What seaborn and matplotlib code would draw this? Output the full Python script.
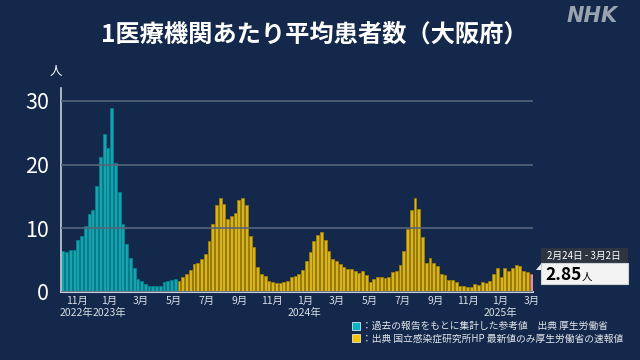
import numpy as np
import pandas as pd
import matplotlib.pyplot as plt
import seaborn as sns
from matplotlib.patches import Patch, Rectangle, Polygon

# weekly values, Oct 3 2022 -> Feb 24 2025 (week start)
first_week = '2022-10-03'
ref_vals = [6.5, 6.2, 6.6, 6.6, 8.1, 8.8, 10.4, 12.2, 12.8, 16.7, 21.1, 24.8, 22.6, 28.9,
            20.3, 15.7, 10.7, 7.6, 5.3, 3.7, 2.1, 1.8, 1.3, 0.9, 0.9, 0.9, 0.9, 1.5, 1.7, 1.9, 2.0]
niid_vals = [1.8, 2.4, 2.8, 3.4, 4.4, 4.6, 5.2, 5.9, 8.0, 10.6, 13.7, 14.7, 13.8, 11.4, 11.9,
             12.4, 14.4, 14.7, 13.6, 8.8, 7.1, 4.0, 2.8, 2.5, 1.8, 1.5, 1.4, 1.4, 1.6, 1.8, 2.3,
             2.5, 2.9, 3.4, 4.8, 6.3, 8.0, 8.9, 9.4, 8.1, 6.4, 5.1, 4.8, 4.4, 3.9, 3.6, 3.6, 3.3,
             3.0, 3.3, 2.7, 1.6, 2.1, 2.3, 2.3, 2.2, 2.4, 3.1, 3.3, 4.3, 6.4, 9.9, 12.8, 14.7,
             13.0, 8.7, 4.6, 5.3, 4.5, 4.1, 2.9, 2.6, 1.9, 1.9, 1.5, 1.0, 1.0, 0.8, 0.8, 1.2,
             1.1, 1.5, 1.4, 1.8, 2.8, 3.7, 2.4, 3.8, 3.3, 3.8, 4.3, 4.1, 3.3, 3.1]
latest_val = 2.85
latest_label = '2月24日 - 3月2日'

kinds = ['ref'] * len(ref_vals) + ['niid'] * len(niid_vals) + ['latest']
values = ref_vals + niid_vals + [latest_val]
weeks = pd.date_range(first_week, periods=len(values), freq='7D')

month_ticks = ['2022-11-01', '2023-01-01', '2023-03-01', '2023-05-01', '2023-07-01', '2023-09-01',
               '2023-11-01', '2024-01-01', '2024-03-01', '2024-05-01', '2024-07-01', '2024-09-01',
               '2024-11-01', '2025-01-01', '2025-03-01']
legend_texts = ['：過去の報告をもとに集計した参考値　出典 厚生労働省',
                '：出典 国立感染症研究所HP 最新値のみ厚生労働省の速報値']

BG = '#13284a'
colors = {'ref': '#00b6c6', 'niid': '#f6c500', 'latest': '#e88a8c'}
edges = {'ref': '#00838f', 'niid': '#a07e00', 'latest': '#b86062'}

df = pd.DataFrame({'week': weeks.strftime('%Y-%m-%d'), 'val': values, 'kind': kinds})

sns.set_theme(style='dark')
plt.rcParams['font.family'] = ['Noto Sans CJK JP', 'DejaVu Sans']

fig = plt.figure(figsize=(6.4, 3.6), dpi=100, facecolor=BG)
ax = fig.add_axes([61/640, 68/360, 472/640, 204/360], facecolor=BG)

sns.barplot(data=df, x='week', y='val', hue='kind', palette=colors, dodge=False,
            width=0.78, legend=False, ax=ax, linewidth=0.6)
for cont, k in zip(ax.containers, ['ref', 'niid', 'latest']):
    for b in cont:
        b.set_edgecolor(edges[k])

ax.set_xlim(-0.5, len(values) - 0.5)
ax.set_ylim(0, 32)
ax.set_xlabel('')
ax.set_ylabel('')

# month ticks -> categorical positions
t0 = pd.Timestamp(first_week)
pos, labs = [], []
for d in pd.to_datetime(month_ticks):
    pos.append(((d - t0).days - 3) / 7)
    lab = f'{d.month}月'
    if d.month == 1 or d == pd.Timestamp('2022-11-01'):
        lab += f'\n{d.year}年'
    labs.append(lab)
ax.set_xticks(pos, labs)
ax.tick_params(axis='x', length=0, pad=3, labelsize=7.5, colors='#d9dee6')

ax.set_yticks([0, 10, 20, 30])
ax.tick_params(axis='y', length=8, width=1.2, color='#56657b', pad=0.5, labelsize=15.5,
               labelcolor='white')
ax.yaxis.grid(True, color='#56657b', linewidth=1.2)
ax.xaxis.grid(False)
ax.set_axisbelow(False)
for s in ['top', 'right']:
    ax.spines[s].set_visible(False)
ax.spines['left'].set_color('#c9cfd8')
ax.spines['bottom'].set_color('#c9cfd8')
ax.spines['left'].set_linewidth(1.2)
ax.spines['bottom'].set_linewidth(1.5)
for t in ax.get_xticklabels():
    t.set_linespacing(1.25)

fig.text(56/640, 1 - 72/360, '人', color='white', fontsize=9, ha='center', va='center')
fig.text(314/640, 1 - 35/360, '1医療機関あたり平均患者数（大阪府）', color='white',
         fontsize=17.5, fontweight='bold', ha='center', va='center')
fig.text(592/640, 1 - 16/360, 'NHK', color='#9aa3b0', fontsize=15, fontweight='bold',
         fontstyle='italic', family='DejaVu Sans', ha='center', va='center')

fig.legend(handles=[Patch(facecolor=colors['ref'], edgecolor='white', linewidth=0.5),
                    Patch(facecolor=colors['niid'], edgecolor='white', linewidth=0.5)],
           labels=legend_texts, loc='upper left', bbox_to_anchor=(352/640, 1 - 321/360),
           frameon=False, fontsize=7, handlelength=0.8, handleheight=0.9, handletextpad=0.2,
           labelspacing=0.25, labelcolor='#e3e6ec', borderpad=0, borderaxespad=0)

# latest value callout
fig.patches.append(Rectangle((541/640, 1 - 263/360), 87/640, 15/360, transform=fig.transFigure,
                             facecolor='#2d3540', edgecolor='none'))
fig.patches.append(Rectangle((541/640, 1 - 284/360), 87/640, 21/360, transform=fig.transFigure,
                             facecolor='#f3f3f3', edgecolor='#cfd3d8', linewidth=0.8))
fig.patches.append(Polygon([(536/640, 1 - 270/360), (541/640, 1 - 264/360), (541/640, 1 - 270/360)],
                           closed=True, transform=fig.transFigure, facecolor='#f3f3f3',
                           edgecolor='none'))
fig.text(584/640, 1 - 255.5/360, latest_label, color='white', fontsize=7, ha='center', va='center')
fig.text(545/640, 1 - 280/360, f'{latest_val:.2f}', color='black', fontsize=12.5,
         fontweight='bold', ha='left', va='baseline')
fig.text(582/640, 1 - 280/360, '人', color='black', fontsize=7.5, ha='left', va='baseline')

plt.savefig('out.png', dpi=100, facecolor=BG)
